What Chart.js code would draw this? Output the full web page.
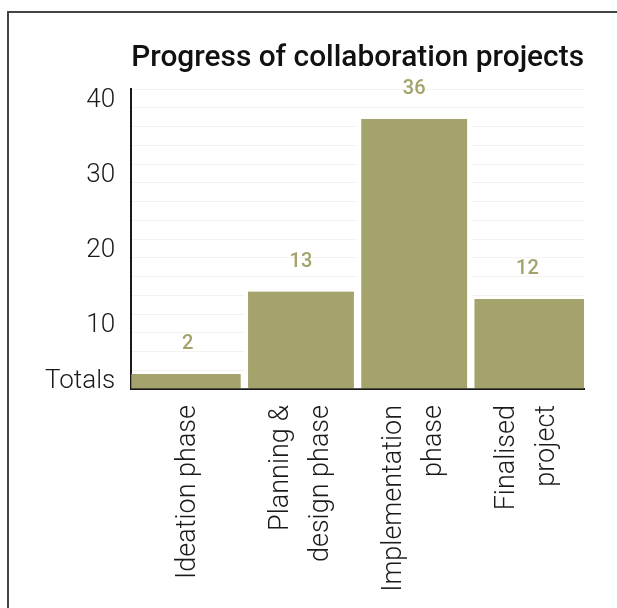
<!DOCTYPE html>
<html>
<head>
<meta charset="utf-8">
<script src="https://cdn.jsdelivr.net/npm/chart.js@4.4.1/dist/chart.umd.min.js"></script>
<style>
  html, body { margin: 0; background: #fff; overflow: hidden; width: 617px; height: 608px; }
  #frame {
    position: absolute; left: 7px; top: 11px; width: 608px; height: 595px;
    border-left: 2px solid #444; border-top: 2px solid #444;
  }
  #wrap { position: absolute; left: 0; top: 0; width: 608px; height: 595px; }
</style>
</head>
<body>
<div id="frame"><div id="wrap"><canvas id="myChart"></canvas></div></div>
<script>
// data
const categories = [
  ['Ideation phase'],
  ['Planning &', 'design phase'],
  ['Implementation', 'phase'],
  ['Finalised', 'project']
];
const totals = [2, 13, 36, 12];
const yTickValues = [2.5, 10, 20, 30, 40];
const yTickLabels = ['Totals', '10', '20', '30', '40'];

const barColor = '#a4a36c';
const labelFont = 'Roboto';

// value labels above the bars
const valueLabels = {
  id: 'valueLabels',
  afterDatasetsDraw(chart) {
    const ctx = chart.ctx;
    const meta = chart.getDatasetMeta(0);
    ctx.save();
    ctx.fillStyle = barColor;
    ctx.font = '500 20px ' + labelFont;
    ctx.textAlign = 'center';
    ctx.textBaseline = 'middle';
    meta.data.forEach((bar, i) => {
      ctx.fillText(String(totals[i]), bar.x, bar.y - 30);
    });
    ctx.restore();
  }
};

// rotated, centred category labels under the axis
const categoryLabels = {
  id: 'categoryLabels',
  afterDraw(chart) {
    const ctx = chart.ctx;
    const xScale = chart.scales.x;
    const top = chart.chartArea.bottom + 16;
    const lineH = 40;
    ctx.save();
    ctx.fillStyle = '#1a1a1a';
    ctx.font = '300 27px ' + labelFont;
    ctx.textAlign = 'right';
    ctx.textBaseline = 'middle';
    categories.forEach((lines, i) => {
      const cx = xScale.getPixelForValue(i);
      lines.forEach((line, j) => {
        const x = cx + (j - (lines.length - 1) / 2) * lineH;
        ctx.save();
        ctx.translate(x, top);
        ctx.rotate(-Math.PI / 2);
        ctx.fillText(line, 0, 0);
        ctx.restore();
      });
    });
    ctx.restore();
  }
};

const ctx = document.getElementById('myChart').getContext('2d');
const myChart = new Chart(ctx, {
  type: 'bar',
  data: {
    labels: categories.map(c => c.join(' ')),
    datasets: [{
      data: totals,
      backgroundColor: barColor,
      borderColor: '#ffffff',
      // white side borders make the gaps between bars, none at the outer edges
      borderWidth: (c) => ({
        left: c.dataIndex === 0 ? 0 : 4,
        right: c.dataIndex === totals.length - 1 ? 0 : 4,
        top: 0,
        bottom: 0
      }),
      borderSkipped: false,
      categoryPercentage: 1,
      barPercentage: 1
    }]
  },
  options: {
    responsive: true,
    maintainAspectRatio: false,
    animation: false,
    layout: { padding: { left: 20, right: 33, top: 0, bottom: 219 } },
    plugins: {
      legend: { display: false },
      tooltip: { enabled: false },
      title: {
        display: true,
        text: 'Progress of collaboration projects',
        fullSize: false,
        color: '#111',
        font: { family: labelFont, size: 30, weight: '500' },
        padding: { top: 27, bottom: 13 }
      }
    },
    scales: {
      x: {
        grid: { display: false, drawTicks: false },
        border: { display: true, color: '#1a1a1a', width: 2 },
        ticks: { display: false }
      },
      y: {
        min: 0,
        max: 40,
        grid: { color: '#f4f4ee', drawTicks: false },
        border: { display: true, color: '#1a1a1a', width: 2 },
        afterBuildTicks: (scale) => {
          const ticks = [];
          for (let v = 0; v <= 40; v += 2.5) ticks.push({ value: v });
          scale.ticks = ticks;
        },
        ticks: {
          padding: 16,
          labelOffset: 11,
          color: '#1a1a1a',
          font: { family: labelFont, size: 26, weight: '300' },
          autoSkip: false,
          callback: (v) => {
            const k = yTickValues.indexOf(v);
            return k >= 0 ? yTickLabels[k] : '';
          }
        }
      }
    }
  },
  plugins: [valueLabels, categoryLabels]
});
</script>
</body>
</html>
